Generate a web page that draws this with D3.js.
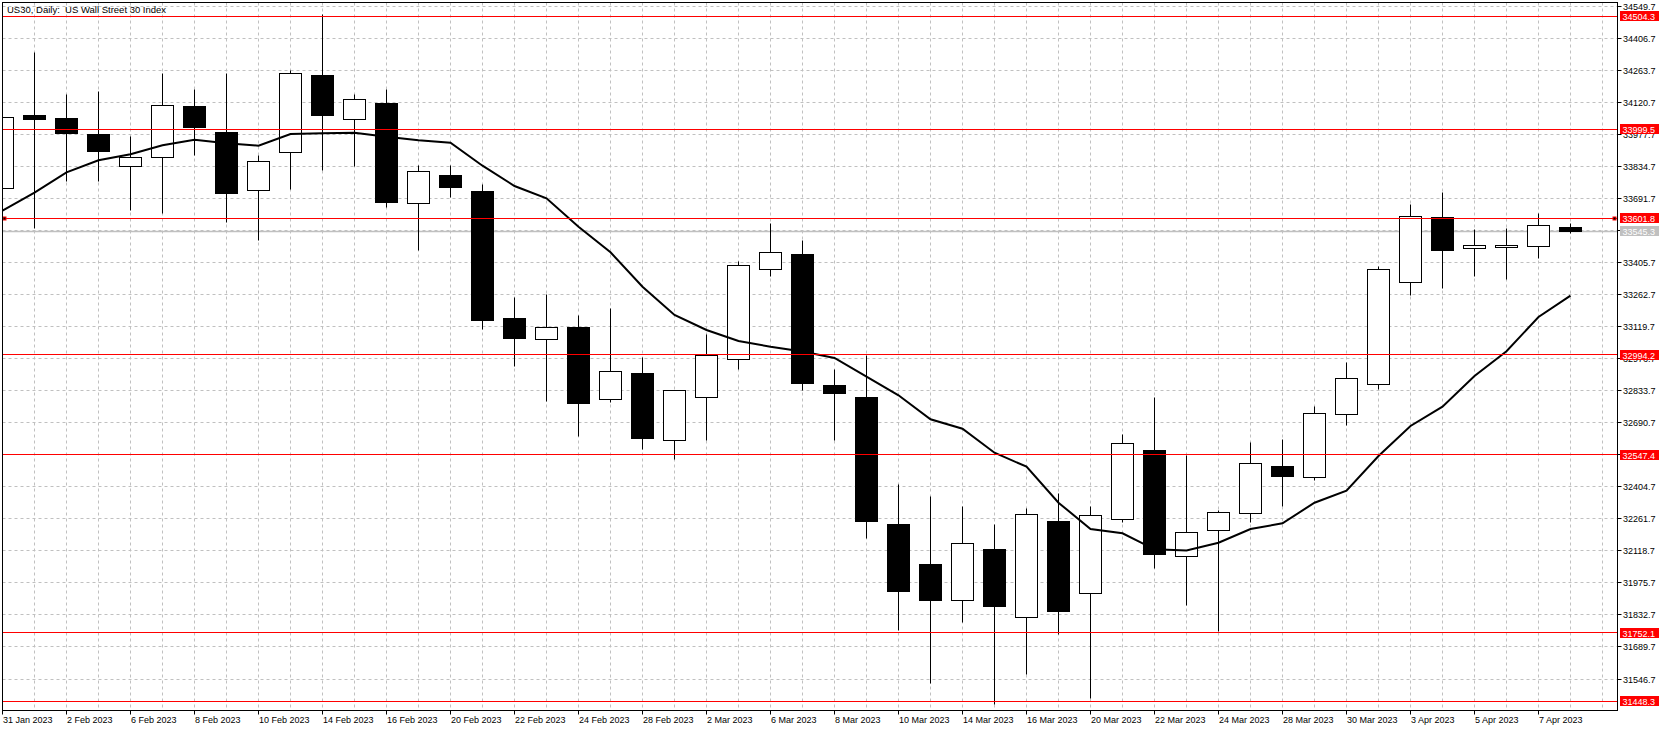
<!DOCTYPE html>
<html>
<head>
<meta charset="utf-8">
<script src="https://cdn.jsdelivr.net/npm/d3@7/dist/d3.min.js"></script>
<style>
  html, body { margin: 0; padding: 0; background: #ffffff; }
  svg { display: block; }
  text { font-family: "Liberation Sans", Arial, sans-serif; white-space: pre; }
</style>
</head>
<body>
<svg id="chart" width="1670" height="731"></svg>
<script>
// ---------------- DATA ----------------
const dates = ["31 Jan 2023","1 Feb 2023","2 Feb 2023","3 Feb 2023","6 Feb 2023","7 Feb 2023","8 Feb 2023","9 Feb 2023","10 Feb 2023","13 Feb 2023",
  "14 Feb 2023","15 Feb 2023","16 Feb 2023","17 Feb 2023","20 Feb 2023","21 Feb 2023","22 Feb 2023","23 Feb 2023","24 Feb 2023","27 Feb 2023",
  "28 Feb 2023","1 Mar 2023","2 Mar 2023","3 Mar 2023","6 Mar 2023","7 Mar 2023","8 Mar 2023","9 Mar 2023","10 Mar 2023","13 Mar 2023",
  "14 Mar 2023","15 Mar 2023","16 Mar 2023","17 Mar 2023","20 Mar 2023","21 Mar 2023","22 Mar 2023","23 Mar 2023","24 Mar 2023","27 Mar 2023",
  "28 Mar 2023","29 Mar 2023","30 Mar 2023","31 Mar 2023","3 Apr 2023","4 Apr 2023","5 Apr 2023","6 Apr 2023","7 Apr 2023","10 Apr 2023"];

const opens = [33736.3,34063.3,34049.9,33974.1,33834.4,33874.6,34102.2,33986.1,33725.5,33896.9,
  34241.8,34044.1,34115.5,33669.3,33795.6,33724.2,33157.5,33062.5,33116.0,32794.8,
  32912.1,32611.8,32803.7,32973.2,33374.8,33441.8,32854.1,32805.0,32233.9,32055.4,
  31897.9,32125.4,31822.0,32251.7,31929.1,32259.3,32568.5,32094.2,32210.2,32286.1,
  32492.7,32446.7,32727.8,32861.7,33316.8,33606.9,33468.5,33473.0,33477.5,33562.2];
const highs = [34095.0,34341.3,34152.6,34170.4,33969.6,34246.3,34179.3,34246.3,33884.8,34264.1,
  34512.7,34157.0,34179.3,33835.8,33835.8,33755.4,33248.1,33263.3,33170.9,33197.7,
  32982.2,32835.0,33081.7,33408.8,33581.4,33504.2,32925.5,32989.3,32416.8,32360.2,
  32318.6,32233.9,32305.3,32375.3,32315.5,32635.5,32800.6,32541.8,32297.7,32599.8,
  32617.6,32761.8,32958.1,33386.4,33663.1,33715.3,33553.3,33557.8,33621.6,33581.4];
const lows = [33700.0,33559.1,33768.8,33768.8,33639.4,33621.6,33881.7,33582.8,33502.4,33728.7,
  33813.5,33832.6,33651.5,33457.8,33694.3,33104.0,32943.3,32784.0,32627.9,32781.4,
  32569.9,32527.0,32608.7,32925.5,33341.8,32833.1,32610.0,32171.4,31765.3,31525.8,
  31801.0,31430.7,31569.0,31744.4,31457.5,32244.1,32038.9,31874.7,31757.8,32244.1,
  32318.6,32431.5,32677.0,32836.3,33255.7,33288.3,33341.8,33331.5,33422.1,33533.7];
const closes = [34053.1,34042.4,33978.6,33899.6,33874.6,34106.6,34006.7,33712.2,33856.7,34246.3,
  34060.2,34133.4,33673.8,33812.1,33738.9,33145.5,33065.2,33116.0,32775.1,32919.7,
  32618.9,32831.8,32991.1,33392.7,33450.7,32864.4,32819.8,32248.6,31936.2,31896.1,
  32152.2,31869.3,32281.6,31847.0,32277.2,32598.4,32101.3,32201.3,32290.5,32509.2,
  32449.4,32732.3,32888.5,33374.8,33611.3,33457.8,33481.9,33481.9,33571.2,33545.3];
// moving average line as drawn on the chart
const maValues = [33636.3,33716.6,33807.7,33861.2,33888.0,33928.1,33953.1,33937.1,33926.3,33978.6,
  33981.7,33984.4,33966.5,33950.4,33939.7,33837.1,33746.5,33691.6,33564.9,33450.7,
  33297.2,33170.9,33104.0,33054.9,33029.5,33008.0,32979.0,32895.6,32812.6,32705.5,
  32663.6,32556.5,32494.0,32333.4,32216.0,32196.8,32125.4,32120.1,32154.9,32216.0,
  32241.5,32333.4,32386.9,32541.8,32675.6,32761.8,32898.7,33008.9,33162.0,33257.0];

const levelLines = [34504.3, 33999.5, 33601.8, 32994.2, 32547.4, 31752.1, 31448.3];
const bidPrice = 33545.3;
const priceTicks = [34549.7,34406.7,34263.7,34120.7,33977.7,33834.7,33691.7,33548.7,33405.7,33262.7,
  33119.7,32976.7,32833.7,32690.7,32547.7,32404.7,32261.7,32118.7,31975.7,31832.7,31689.7,31546.7];
const dateTickLabels = ["31 Jan 2023","2 Feb 2023","6 Feb 2023","8 Feb 2023","10 Feb 2023","14 Feb 2023","16 Feb 2023",
  "20 Feb 2023","22 Feb 2023","24 Feb 2023","28 Feb 2023","2 Mar 2023","6 Mar 2023","8 Mar 2023","10 Mar 2023",
  "14 Mar 2023","16 Mar 2023","20 Mar 2023","22 Mar 2023","24 Mar 2023","28 Mar 2023","30 Mar 2023","3 Apr 2023",
  "5 Apr 2023","7 Apr 2023"];
const chartTitle = "US30, Daily:  US Wall Street 30 Index";

// ---------------- LAYOUT ----------------
(function () {
const W = 1670, H = 731;
const pLeft = 2.5, pTop = 2.5, pRight = 1617.5, pBottom = 710.5;
const step = 32;

const svg = d3.select("#chart");
svg.append("rect").attr("width", W).attr("height", H).attr("fill", "#fff");

const x = d3.scalePoint().domain(dates).range([2.5, 2.5 + step * (dates.length - 1)]);
const y = d3.scaleLinear().domain([31546.7, 34549.7]).range([679, 6]);
const py = v => Math.round(y(v) - 0.5) + 0.5;

const clipId = "plotclip";
svg.append("clipPath").attr("id", clipId).append("rect")
  .attr("x", pLeft).attr("y", pTop).attr("width", pRight - pLeft).attr("height", pBottom - pTop);
const inner = svg.append("g").attr("clip-path", `url(#${clipId})`);

// grid
const gridGroup = inner.append("g");
gridGroup.selectAll("line.h").data(priceTicks).join("line")
  .attr("x1", pLeft).attr("x2", pRight).attr("y1", d => py(d)).attr("y2", d => py(d))
  .attr("stroke", "#c0c0c0").attr("stroke-width", 1).attr("stroke-dasharray", "3,3");
const vIdx = d3.range(0, 51);
gridGroup.selectAll("line.v").data(vIdx).join("line")
  .attr("x1", i => 2.5 + step * i).attr("x2", i => 2.5 + step * i)
  .attr("y1", pTop).attr("y2", pBottom)
  .attr("stroke", "#c0c0c0").attr("stroke-width", 1).attr("stroke-dasharray", "3,3");

// bid line
inner.append("line").attr("x1", pLeft).attr("x2", pRight)
  .attr("y1", py(bidPrice)).attr("y2", py(bidPrice))
  .attr("stroke", "#c0c0c0").attr("stroke-width", 1.5);

// candles
const candles = dates.map((d, i) => ({d, o: opens[i], h: highs[i], l: lows[i], c: closes[i]}));
const cg = inner.append("g");
cg.selectAll("line.wick").data(candles).join("line")
  .attr("x1", d => x(d.d)).attr("x2", d => x(d.d))
  .attr("y1", d => py(d.h)).attr("y2", d => py(d.l))
  .attr("stroke", "#000").attr("stroke-width", 1);
cg.selectAll("rect.body").data(candles).join("rect")
  .attr("x", d => x(d.d) - 11)
  .attr("width", 22)
  .attr("y", d => py(Math.max(d.o, d.c)))
  .attr("height", d => Math.max(1, py(Math.min(d.o, d.c)) - py(Math.max(d.o, d.c))))
  .attr("fill", d => d.c >= d.o ? "#fff" : "#000")
  .attr("stroke", "#000").attr("stroke-width", 1);

// moving average
const maLine = d3.line().x((v, i) => x(dates[i])).y(v => y(v));
inner.append("path").datum(maValues).attr("d", maLine)
  .attr("fill", "none").attr("stroke", "#000").attr("stroke-width", 2);

// level lines
inner.selectAll("line.lvl").data(levelLines).join("line")
  .attr("x1", pLeft).attr("x2", pRight).attr("y1", d => py(d)).attr("y2", d => py(d))
  .attr("stroke", "#ff0000").attr("stroke-width", 1);

// markers on the 33601.8 line
[4.5, 1614.5].forEach(mx => {
  svg.append("rect").attr("x", mx - 1.5).attr("y", py(33601.8) - 1.5).attr("width", 3).attr("height", 3)
    .attr("fill", "#000").attr("stroke", "#ff0000").attr("stroke-width", 1);
});

// frame
svg.append("rect").attr("x", pLeft).attr("y", pTop).attr("width", pRight - pLeft).attr("height", pBottom - pTop)
  .attr("fill", "none").attr("stroke", "#000").attr("stroke-width", 1);

// title
svg.append("text").attr("x", 7).attr("y", 13).attr("font-size", 9.5).attr("fill", "#000").text(chartTitle);

// right axis ticks and labels
const ax = svg.append("g");
ax.selectAll("line.t").data(priceTicks).join("line")
  .attr("x1", pRight).attr("x2", pRight + 4).attr("y1", d => py(d)).attr("y2", d => py(d))
  .attr("stroke", "#000");
ax.selectAll("text.t").data(priceTicks).join("text")
  .attr("x", 1623).attr("y", d => py(d) + 3.5).attr("font-size", 9).attr("fill", "#000")
  .text(d => d.toFixed(1));

// level labels
const lab = svg.append("g");
levelLines.forEach(v => {
  const yy = Math.round(y(v));
  lab.append("rect").attr("x", 1620).attr("y", yy - 5).attr("width", 39).attr("height", 10).attr("fill", "#ff0000");
  lab.append("text").attr("x", 1622.5).attr("y", yy + 3.5).attr("font-size", 9).attr("fill", "#fff").text(v.toFixed(1));
});
{
  const yy = Math.round(y(bidPrice));
  lab.append("rect").attr("x", 1620).attr("y", yy - 5).attr("width", 39).attr("height", 10).attr("fill", "#c0c0c0");
  lab.append("text").attr("x", 1622.5).attr("y", yy + 3.5).attr("font-size", 9).attr("fill", "#fff").text(bidPrice.toFixed(1));
}

// bottom axis labels
const bx = svg.append("g");
bx.selectAll("line.t").data(dateTickLabels).join("line")
  .attr("x1", d => x(d)).attr("x2", d => x(d)).attr("y1", pBottom).attr("y2", pBottom + 4)
  .attr("stroke", "#000");
bx.selectAll("text.t").data(dateTickLabels).join("text")
  .attr("x", d => x(d) + 0.5).attr("y", 723).attr("font-size", 9).attr("fill", "#000")
  .text(d => d);
})();
</script>
</body>
</html>
